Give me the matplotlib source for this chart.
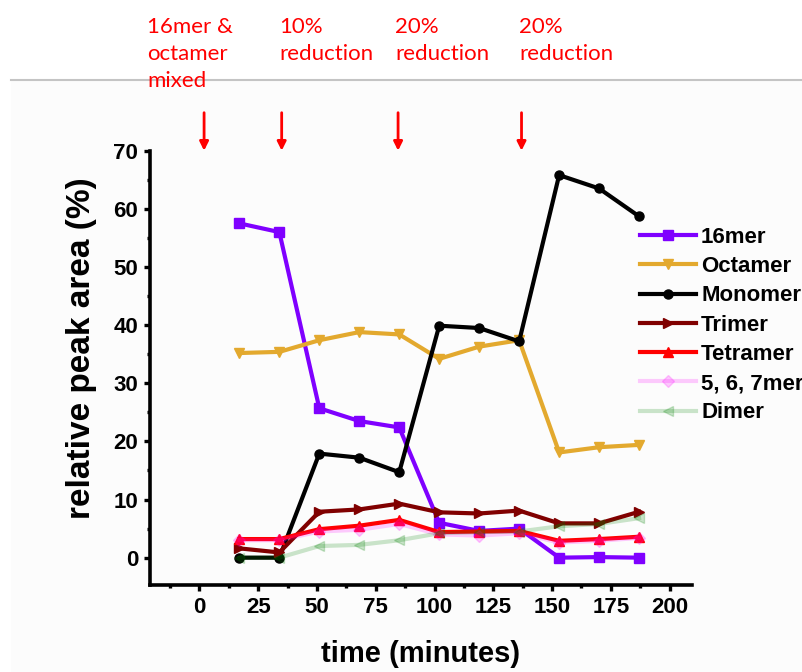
import matplotlib
matplotlib.use("Agg")
import matplotlib.pyplot as plt
from matplotlib.ticker import MultipleLocator
from matplotlib.patches import Rectangle
from matplotlib.lines import Line2D

# Sampling times (minutes)
time_min = [17, 34, 51, 68, 85, 102, 119, 136, 153, 170, 187]

# Relative peak areas (%)
mer16 = [57.5, 56.0, 25.7, 23.5, 22.4, 6.0, 4.6, 5.0, 0.0, 0.1, 0.0]
octamer = [35.2, 35.4, 37.4, 38.8, 38.4, 34.2, 36.3, 37.4, 18.1, 19.0, 19.4]
monomer = [0.0, 0.0, 17.9, 17.2, 14.7, 39.9, 39.5, 37.2, 65.8, 63.5, 58.7]
trimer = [1.6, 0.9, 7.9, 8.3, 9.3, 7.8, 7.6, 8.1, 5.9, 5.9, 7.9]
tetramer = [3.2, 3.2, 4.9, 5.5, 6.5, 4.4, 4.5, 4.6, 2.9, 3.2, 3.6]
mer567 = [3.0, 3.0, 4.5, 4.8, 5.8, 4.0, 3.8, 4.2, 2.6, 2.9, 3.4]
dimer = [0.0, 0.0, 2.0, 2.2, 3.0, 4.2, 4.4, 4.5, 5.4, 5.8, 6.8]

series_names = ["16mer", "Octamer", "Monomer", "Trimer", "Tetramer", "5, 6, 7mer", "Dimer"]

# Events marked above the plot
event_times = [2, 35, 84.5, 137]
event_labels = ["16mer &\noctamer\nmixed", "10%\nreduction", "20%\nreduction", "20%\nreduction"]

x_ticks = [0, 25, 50, 75, 100, 125, 150, 175, 200]
y_ticks = [0, 10, 20, 30, 40, 50, 60, 70]

W, H = 802, 672
fig = plt.figure(figsize=(W / 100, H / 100), dpi=100)
fig.patch.set_facecolor("white")

# faint panel below the divider line
fig.add_artist(Rectangle((11 / W, 0), 1 - 11 / W, 1 - 81 / H,
                         transform=fig.transFigure, facecolor="#fcfcfc",
                         edgecolor="none", zorder=-10))
fig.add_artist(Line2D([11 / W, 1], [1 - 80 / H, 1 - 80 / H], transform=fig.transFigure,
                      color="#c4c4c4", lw=1.5, zorder=-9))

ax = fig.add_axes([150 / W, 1 - 585 / H, (692 - 150) / W, (585 - 150.7) / H])
ax.set_facecolor("none")

styles = [
    dict(color="#7f00ff", marker="s", ms=6.5),
    dict(color="#e3a92e", marker="v", ms=7.5),
    dict(color="black", marker="o", ms=6.5),
    dict(color="#800000", marker=">", ms=7.5),
    dict(color="#ff0000", marker="^", ms=7.5),
    dict(color="#ff00ff", marker="D", ms=6, alpha=0.2),
    dict(color="#008000", marker="<", ms=7.5, alpha=0.2),
]
data = [mer16, octamer, monomer, trimer, tetramer, mer567, dimer]
for name, vals, st in zip(series_names, data, styles):
    ax.plot(time_min, vals, lw=3, label=name, clip_on=False, **st)

ax.set_xlim(-21, 209.5)
ax.set_ylim(-4.7, 70)
ax.set_xticks(x_ticks)
ax.set_yticks(y_ticks)
ax.xaxis.set_minor_locator(MultipleLocator(12.5))
ax.yaxis.set_minor_locator(MultipleLocator(5))

for s in ["top", "right"]:
    ax.spines[s].set_visible(False)
for s in ["left", "bottom"]:
    ax.spines[s].set_linewidth(2.6)

ax.tick_params(which="major", direction="out", length=4.5, width=2.4, pad=4,
               labelsize=16)
ax.tick_params(which="minor", direction="out", length=2.5, width=2.4)
for lab in ax.get_xticklabels() + ax.get_yticklabels():
    lab.set_fontfamily("Liberation Sans")
    lab.set_fontweight("bold")

ax.set_xlabel("time (minutes)", fontsize=21, fontweight="bold",
              family="Liberation Sans", labelpad=16)
ax.set_ylabel("relative peak area (%)", fontsize=24, fontweight="bold",
              family="Liberation Sans")
ax.yaxis.set_label_coords(-0.097, 0.546)

leg = ax.legend(loc="upper left", bbox_to_anchor=(640 / W, 1 - 227 / H),
                bbox_transform=fig.transFigure, frameon=False, borderpad=0,
                borderaxespad=0, handlelength=2.5, handletextpad=0.25,
                labelspacing=0.37, numpoints=1,
                prop=dict(family="Liberation Sans", weight="bold", size=16))

# Event arrows and captions
label_x_px = [147, 279, 395, 519]
for t, txt, lx in zip(event_times, event_labels, label_x_px):
    ax.annotate("", xy=(t, 70), xycoords="data",
                xytext=(t, 70 + (151 - 113) / 5.814), textcoords="data",
                arrowprops=dict(arrowstyle="-|>", color="red", lw=2,
                                mutation_scale=13, shrinkA=0, shrinkB=0),
                annotation_clip=False)
    fig.text(lx / W, 1 - 17 / H, txt, ha="left", va="top", color="red",
             family="Lato", fontsize=16, linespacing=1.45, zorder=3)

fig.savefig("out.png", dpi=100)
